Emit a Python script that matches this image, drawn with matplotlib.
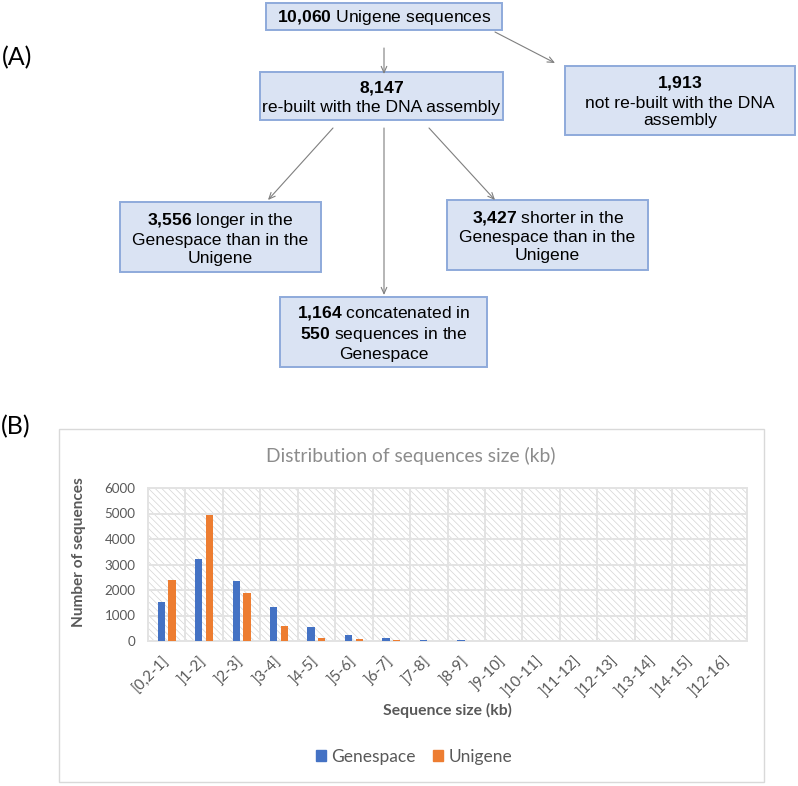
import matplotlib
matplotlib.use('Agg')
import matplotlib.pyplot as plt
from matplotlib.patches import Rectangle, Patch
from matplotlib.transforms import ScaledTranslation
import numpy as np

plt.rcParams['mathtext.fontset'] = 'custom'
plt.rcParams['mathtext.rm'] = 'Liberation Sans'
plt.rcParams['mathtext.bf'] = 'Liberation Sans:bold'
plt.rcParams['hatch.linewidth'] = 0.5

# data
categories = ['[0,2-1]', ']1-2]', ']2-3]', ']3-4]', ']4-5]', ']5-6]', ']6-7]', ']7-8]',
              ']8-9]', ']9-10]', ']10-11]', ']11-12]', ']12-13]', ']13-14]', ']14-15]', ']12-16]']
genespace = [1530, 3205, 2360, 1320, 535, 240, 110, 55, 30, 12, 6, 4, 3, 2, 2, 2]
unigene = [2405, 4935, 1885, 575, 135, 70, 38, 12, 5, 2, 1, 0, 0, 0, 0, 0]

boxes = [
    (r'$\mathbf{10{,}060}$ Unigene sequences',),
    (r'$\mathbf{8{,}147}$', 're-built with the DNA assembly'),
    (r'$\mathbf{1{,}913}$', 'not re-built with the DNA', 'assembly'),
    (r'$\mathbf{3{,}556}$ longer in the', 'Genespace than in the', 'Unigene'),
    (r'$\mathbf{3{,}427}$ shorter in the', 'Genespace than in the', 'Unigene'),
    (r'$\mathbf{1{,}164}$ concatenated in', r'$\mathbf{550}$ sequences in the', 'Genespace'),
]

W, H = 798, 786
fig = plt.figure(figsize=(W / 100, H / 100), dpi=100)

# overlay in pixel coordinates for the flow diagram
ov = fig.add_axes([0, 0, 1, 1])
ov.set_xlim(0, W)
ov.set_ylim(H, 0)
ov.axis('off')

box_pos = [(266, 3, 502, 30), (260, 72, 503, 120), (565, 66, 795, 135),
           (120, 202, 321, 272), (447, 200, 648, 270), (280, 297, 487, 367)]
for lines, (x0, y0, x1, y1) in zip(boxes, box_pos):
    ov.add_patch(Rectangle((x0, y0), x1 - x0, y1 - y0, facecolor='#dae3f3',
                           edgecolor='#8eaadb', lw=1.4))
    ov.text((x0 + x1) / 2, (y0 + y1) / 2 + 1, '\n'.join(lines), ha='center', va='center',
            fontsize=12.6, family='Liberation Sans', color='black', linespacing=1.25)

arrows = [((384, 48), (384, 74)), ((495, 32), (555, 63)), ((333, 128), (268, 200)),
          ((384, 128), (384, 295)), ((429, 128), (495, 200))]
for s, e in arrows:
    ov.annotate('', xy=e, xytext=s,
                arrowprops=dict(arrowstyle='->,head_length=0.45,head_width=0.2',
                                color='#7f7f7f', lw=0.8, shrinkA=0, shrinkB=0))

ov.text(2, 58, '(A)', fontsize=18, family='Lato', va='center', ha='left')
ov.text(1, 427, '(B)', fontsize=18, family='Lato', va='center', ha='left')

# chart frame
ov.add_patch(Rectangle((59, 429), 705, 353, facecolor='none', edgecolor='#d9d9d9', lw=1))
ov.text(411, 456, 'Distribution of sequences size (kb)', ha='center', va='center',
        fontsize=13.9, family='Lato', color='#8c8c8c')
ov.text(447, 710, 'Sequence size (kb)', ha='center', va='center', fontsize=11.3,
        family='Lato', fontweight='bold', color='#595959')
ov.text(79, 552, 'Number of sequences', ha='center', va='center', rotation=90,
        fontsize=11.1, family='Lato', fontweight='bold', color='#595959')

# bar chart
ax = fig.add_axes([148 / W, 1 - 641 / H, (747 - 148) / W, (641 - 488) / H])
x = np.arange(len(categories))
ax.add_patch(Rectangle((-0.5, 0), len(categories), 6000, facecolor='white',
                       edgecolor='#d4d4d4', hatch='\\\\\\\\\\', lw=0, zorder=0))
ax.bar(x - 0.143, genespace, 0.195, color='#4472c4', zorder=3)
ax.bar(x + 0.143, unigene, 0.195, color='#ed7d31', zorder=3)
ax.set_xlim(-0.5, len(categories) - 0.5)
ax.set_ylim(0, 6000)
ax.set_yticks(range(0, 6001, 1000))
ax.set_xticks(x)
ax.set_xticklabels(categories, rotation=45, ha='right', va='center', rotation_mode='anchor',
                   family='Lato', fontsize=11, color='#595959')
shift = ScaledTranslation(6 / 100, 0, fig.dpi_scale_trans)
for lab in ax.get_xticklabels():
    lab.set_transform(lab.get_transform() + shift)
ax.set_xticks(np.arange(-0.5, len(categories)), minor=True)
for lab in ax.get_yticklabels():
    lab.set_family('Lato')
    lab.set_fontsize(9.6)
    lab.set_color('#595959')
ax.tick_params(axis='both', which='both', length=0)
ax.tick_params(axis='x', pad=13)
ax.tick_params(axis='y', pad=9)
ax.grid(axis='y', color='#e3e3e3', lw=1.4, zorder=1)
ax.grid(axis='x', which='minor', color='#e3e3e3', lw=1.4, zorder=1)
ax.grid(axis='x', which='major', visible=False)
for sp in ax.spines.values():
    sp.set_color('#e3e3e3')
    sp.set_linewidth(1.4)
ax.set_facecolor('white')

handles = [Patch(color='#4472c4'), Patch(color='#ed7d31')]
leg = fig.legend(handles, ['Genespace', 'Unigene'], loc='center',
                 bbox_to_anchor=(414 / W, 1 - 757 / H), ncol=2, frameon=False,
                 prop={'family': 'Lato', 'size': 12.5}, handlelength=0.6,
                 handleheight=0.6, handletextpad=0.3, columnspacing=1.0)
for t in leg.get_texts():
    t.set_color('#595959')

fig.savefig('out.png', dpi=100)
